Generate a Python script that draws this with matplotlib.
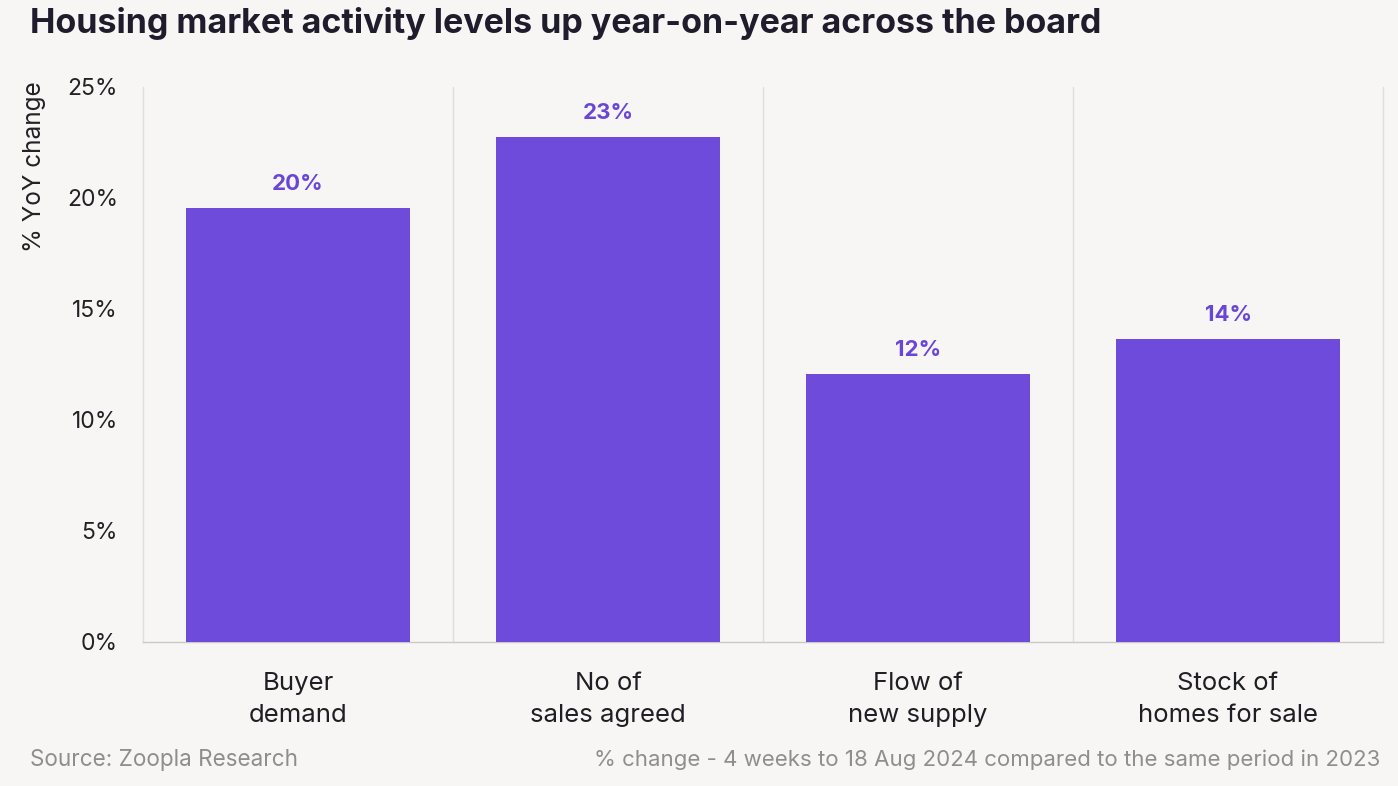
import matplotlib
matplotlib.use("Agg")
import matplotlib.pyplot as plt
from matplotlib.ticker import FixedLocator, FuncFormatter

categories = ["Buyer\ndemand", "No of\nsales agreed", "Flow of\nnew supply", "Stock of\nhomes for sale"]
values = [19.54, 22.74, 12.08, 13.64]
yticks = [0, 5, 10, 15, 20, 25]

BG = "#f7f6f5"
BAR = "#6f4bdc"
LABEL = "#6a46d8"
GRID = "#dedede"

plt.rcParams['font.family'] = ['Inter', 'DejaVu Sans']

fig = plt.figure(figsize=(13.98, 7.86), dpi=100, facecolor=BG)
ax = fig.add_axes([143/1398, 1-642/786, 1240/1398, (642-86.7)/786])
ax.set_facecolor(BG)

x = list(range(len(categories)))
ax.bar(x, values, width=0.725, color=BAR, zorder=3)
for xi, v in zip(x, values):
    ax.annotate(f"{v:.0f}%", (xi, v), xytext=(0, 10), textcoords="offset points",
                ha="center", va="bottom", fontsize=16, fontweight="bold", color=LABEL)

ax.set_xlim(-0.5, len(categories) - 0.5)
ax.set_ylim(0, 25)
ax.set_yticks(yticks)
ax.yaxis.set_major_formatter(FuncFormatter(lambda v, p: f"{v:.0f}%"))
ax.set_xticks(x)
ax.set_xticklabels(categories, fontsize=18.5, color="#1e1e24", linespacing=1.48)
ax.xaxis.set_minor_locator(FixedLocator([0.5, 1.5, 2.5]))
ax.grid(which="minor", axis="x", color=GRID, lw=1, zorder=0)
ax.tick_params(axis="both", which="both", length=0)
ax.tick_params(axis="y", labelsize=16.5, labelcolor="#222226", pad=18)
ax.tick_params(axis="x", pad=21.5)

ax.spines["top"].set_visible(False)
ax.spines["left"].set_color(GRID)
ax.spines["right"].set_color(GRID)
ax.spines["bottom"].set_color("#c9c9c9")
for s in ["left", "right", "bottom"]:
    ax.spines[s].set_linewidth(1)

fig.text(35/1398, 1-167/786, "% YoY change", rotation=90, ha="center", va="center",
         fontsize=17.5, color="#222226")

fig.text(30/1398, 1-24/786, "Housing market activity levels up year-on-year across the board",
         ha="left", va="center", fontsize=24.5, fontweight="bold", color="#1f1c2c")
fig.text(30/1398, 1-760/786, "Source: Zoopla Research", ha="left", va="center",
         fontsize=16.2, color="#8e8e8e")
fig.text(1380/1398, 1-760/786, "% change - 4 weeks to 18 Aug 2024 compared to the same period in 2023",
         ha="right", va="center", fontsize=16, color="#8e8e8e")

fig.savefig("out.png", dpi=100, facecolor=BG)
